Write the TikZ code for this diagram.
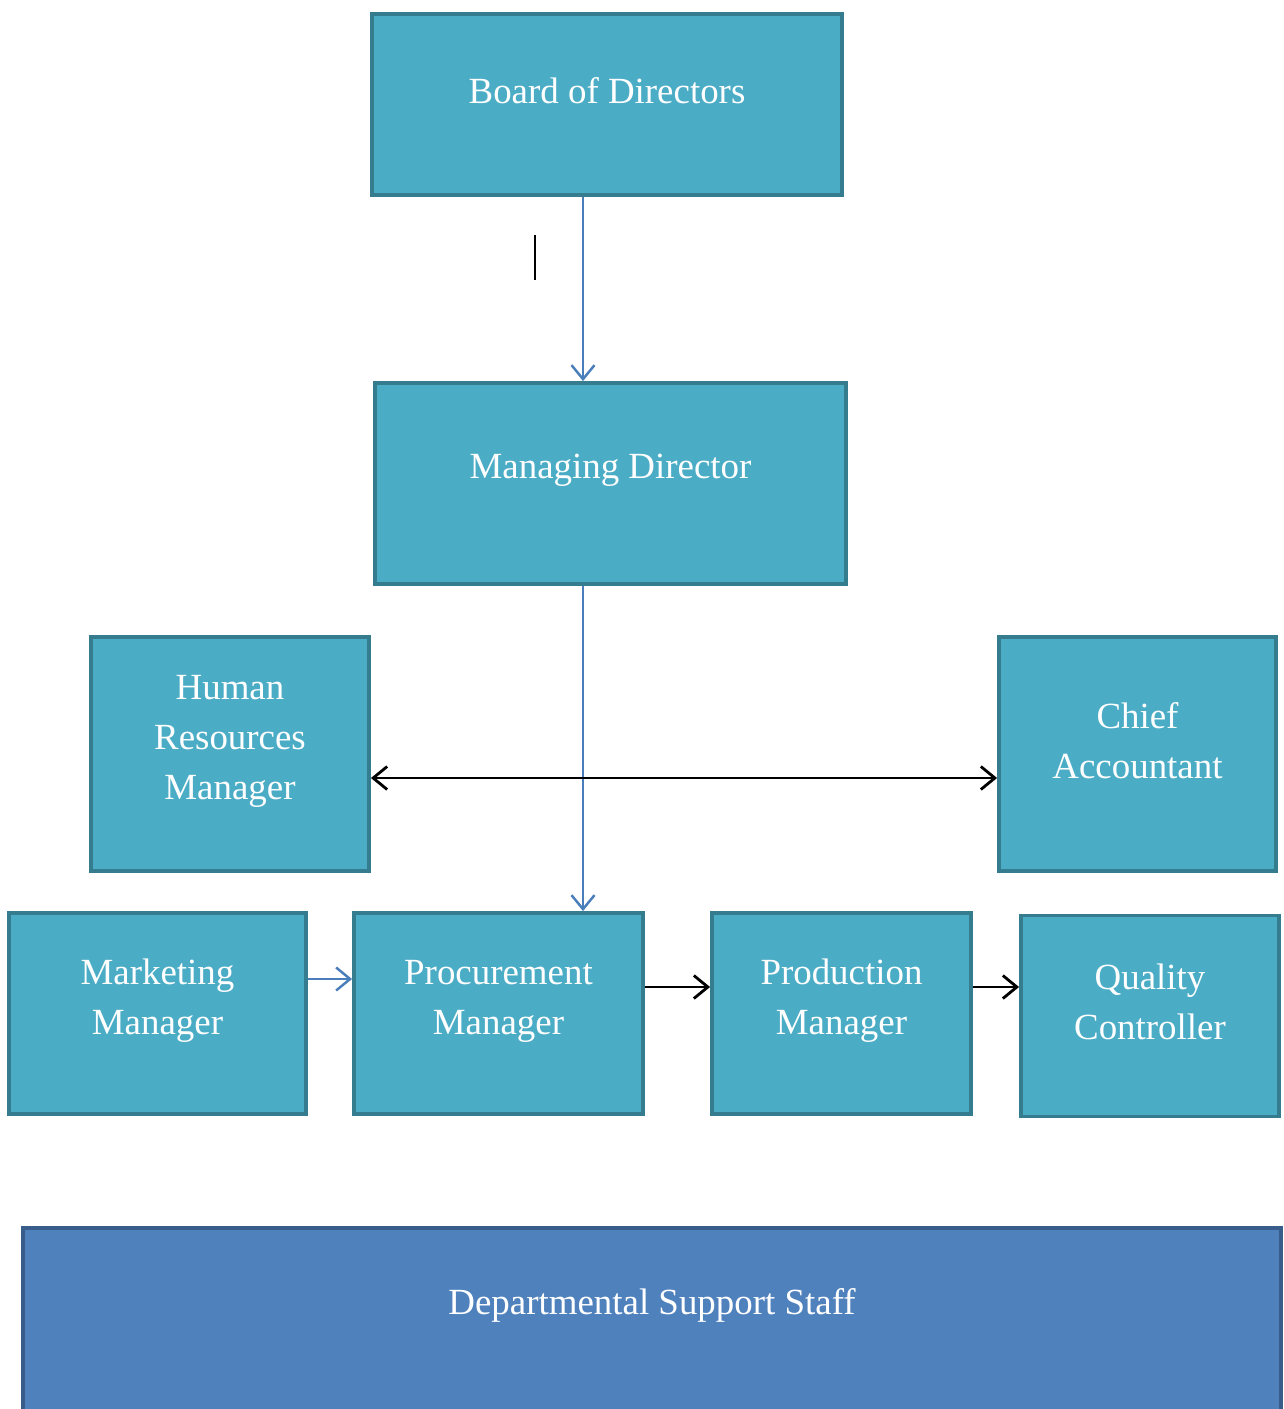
\documentclass[tikz,border=0pt]{standalone}
\usepackage{fontspec}
\setmainfont{Liberation Serif}
\usetikzlibrary{arrows.meta, calc}
\definecolor{chart-aqua}{RGB}{75,172,198}
\definecolor{chart-aqua-dark}{RGB}{53,124,143}
\definecolor{chart-blue}{RGB}{79,129,189}
\definecolor{chart-blue-dark}{RGB}{56,93,138}
\definecolor{chart-link}{RGB}{74,126,187}

\begin{document}
\begin{tikzpicture}[
  box/.style={draw=chart-aqua-dark, fill=chart-aqua, line width=2.2pt, minimum height=4.02cm},
  staff/.style={draw=chart-blue-dark, fill=chart-blue, line width=2.2pt},
  txt/.style={text=white, align=center, font=\fontsize{21}{28.5}\selectfont},
  link/.style={-{Straight Barb[length=2.8mm, width=4.6mm]}, line width=1.4pt, chart-link},
  flow/.style={-{Straight Barb[length=2.8mm, width=4.6mm]}, line width=1.6pt, black},
]
  \path[use as bounding box, clip] (0,0) rectangle (25.66,-28.18);

  % Top
  \node[box, minimum width=9.40cm, minimum height=3.62cm] (board) at (12.14,-2.09) {};
  \node[txt] (board-t) at ([yshift=2.8mm]board.center) {Board of Directors};
  \node[box, minimum width=9.42cm] (md) at (12.21,-9.67) {};
  \node[txt] (md-t) at ([yshift=2.6mm]md.center) {Managing Director};

  % Side managers
  \node[box, minimum width=5.56cm, minimum height=4.68cm] (hr) at (4.60,-15.08) {};
  \node[txt] (hr-t) at ([yshift=2.5mm]hr.center) {Human\\Resources\\Manager};
  \node[box, minimum width=5.54cm, minimum height=4.68cm] (chief) at (22.75,-15.08) {};
  \node[txt] (chief-t) at ([yshift=2.6mm]chief.center) {Chief\\Accountant};

  % Operations row
  \node[box, minimum width=5.94cm] (mkt) at (3.15,-20.27) {};
  \node[txt] (mkt-t) at ([yshift=2.5mm]mkt.center) {Marketing\\Manager};
  \node[box, minimum width=5.78cm] (proc) at (9.97,-20.27) {};
  \node[txt] (proc-t) at ([yshift=2.5mm]proc.center) {Procurement\\Manager};
  \node[box, minimum width=5.18cm] (prod) at (16.83,-20.27) {};
  \node[txt] (prod-t) at ([yshift=2.5mm]prod.center) {Production\\Manager};
  \node[box, minimum width=5.16cm] (qc) at (23.00,-20.32) {};
  \node[txt] (qc-t) at ([yshift=2.8mm]qc.center) {Quality\\Controller};

  % Support staff
  \node[staff, minimum width=25.16cm, minimum height=3.76cm] (support) at (13.04,-26.44) {};
  \node[txt] (support-t) at ([yshift=3.4mm]support.center) {Departmental Support Staff};

  % Helper coordinates
  \coordinate (spine) at (11.66,0);
  \coordinate (cross) at (0,-15.56);
  \coordinate (mktrow) at (0,-19.58);
  \coordinate (prodrow) at (0,-19.74);

  % Reporting lines
  \draw[link] (board.south -| spine) -- (md.north -| spine);
  \draw[link] (md.south -| spine) -- (proc.north -| spine);
  \draw[flow, {Straight Barb[length=2.8mm, width=4.6mm]}-{Straight Barb[length=2.8mm, width=4.6mm]}]
    (hr.east |- cross) -- (chief.west |- cross);
  \draw[link] (mkt.east |- mktrow) -- (proc.west |- mktrow);
  \draw[flow] (proc.east |- prodrow) -- (prod.west |- prodrow);
  \draw[flow] (prod.east |- prodrow) -- (qc.west |- prodrow);

  \draw[line width=1.6pt] (10.70,-4.70) -- (10.70,-5.60);
\end{tikzpicture}
\end{document}
